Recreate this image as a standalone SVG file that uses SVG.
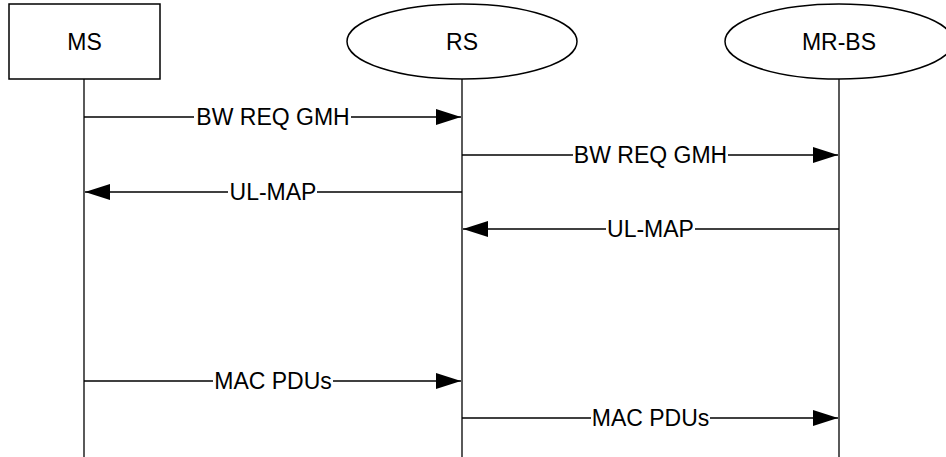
<svg xmlns="http://www.w3.org/2000/svg" width="946" height="457" viewBox="0 0 946 457">
  <style>
    .shape { fill: #ffffff; stroke: #000000; stroke-width: 1.5; }
    .life { stroke: #000000; stroke-width: 1.3; fill: none; }
    .msg { stroke: #000000; stroke-width: 1.3; fill: none; }
    .lbl { font-family: "Liberation Sans", Arial, sans-serif; font-size: 23px; fill: #000000; text-anchor: middle; }
  </style>
  <defs>
    <marker id="head" markerUnits="userSpaceOnUse" markerWidth="26" markerHeight="17" refX="25" refY="8" orient="auto">
      <path d="M0,0 L25,8 L0,16 z" fill="#000000"/>
    </marker>
  </defs>
  <rect width="946" height="457" fill="#ffffff"/>

  <!-- lifelines -->
  <g id="lifelines">
    <line class="life" x1="84" y1="79" x2="84" y2="457"/>
    <line class="life" x1="462" y1="79" x2="462" y2="457"/>
    <line class="life" x1="839" y1="79" x2="839" y2="457"/>
  </g>

  <!-- participants -->
  <g id="ms">
    <rect class="shape" x="9" y="4" width="151" height="75"/>
    <text class="lbl" x="84.5" y="49.5">MS</text>
  </g>
  <g id="rs">
    <ellipse class="shape" cx="462" cy="41.5" rx="115" ry="37.5"/>
    <text class="lbl" x="462" y="49.5">RS</text>
  </g>
  <g id="mr-bs">
    <ellipse class="shape" cx="839" cy="41.5" rx="114" ry="37.5"/>
    <text class="lbl" x="839" y="49.5">MR-BS</text>
  </g>

  <!-- messages -->
  <g id="connectors">
    <!-- MS -> RS : BW REQ GMH -->
    <line class="msg" x1="84" y1="117" x2="194" y2="117"/>
    <line class="msg" x1="351" y1="117" x2="461" y2="117" marker-end="url(#head)"/>
    <text class="lbl" x="273" y="125">BW REQ GMH</text>

    <!-- RS -> MR-BS : BW REQ GMH -->
    <line class="msg" x1="462" y1="155" x2="573" y2="155"/>
    <line class="msg" x1="728" y1="155" x2="838" y2="155" marker-end="url(#head)"/>
    <text class="lbl" x="650.5" y="163">BW REQ GMH</text>

    <!-- RS -> MS : UL-MAP -->
    <line class="msg" x1="462" y1="192" x2="317" y2="192"/>
    <line class="msg" x1="228" y1="192" x2="85" y2="192" marker-end="url(#head)"/>
    <text class="lbl" x="273" y="200">UL-MAP</text>

    <!-- MR-BS -> RS : UL-MAP -->
    <line class="msg" x1="839" y1="229" x2="695" y2="229"/>
    <line class="msg" x1="606" y1="229" x2="463" y2="229" marker-end="url(#head)"/>
    <text class="lbl" x="650.5" y="237">UL-MAP</text>

    <!-- MS -> RS : MAC PDUs -->
    <line class="msg" x1="84" y1="381" x2="213" y2="381"/>
    <line class="msg" x1="333" y1="381" x2="461" y2="381" marker-end="url(#head)"/>
    <text class="lbl" x="273" y="389">MAC PDUs</text>

    <!-- RS -> MR-BS : MAC PDUs -->
    <line class="msg" x1="462" y1="418" x2="591" y2="418"/>
    <line class="msg" x1="710" y1="418" x2="838" y2="418" marker-end="url(#head)"/>
    <text class="lbl" x="650.5" y="426">MAC PDUs</text>
  </g>
</svg>
